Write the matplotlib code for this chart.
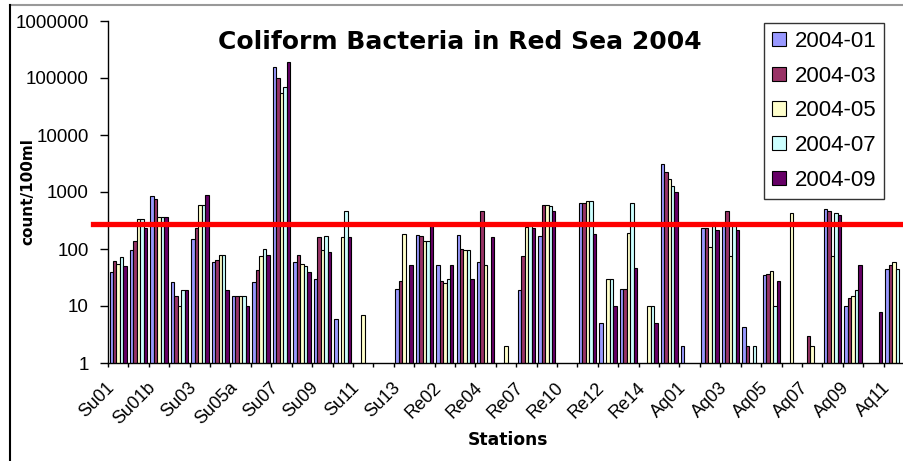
import numpy as np
import matplotlib
matplotlib.use('Agg')
import matplotlib.pyplot as plt
from matplotlib.patches import Patch
from matplotlib.lines import Line2D
from matplotlib.ticker import FixedLocator, FuncFormatter, NullLocator
from matplotlib.transforms import ScaledTranslation

plt.rcParams['font.family'] = ['Liberation Sans', 'DejaVu Sans']

nan = np.nan

stations = ['Su01', 'Su01a', 'Su01b', 'Su02', 'Su03', 'Su05', 'Su05a', 'Su06', 'Su07', 'Su08',
            'Su09', 'Su10', 'Su11', 'Su12', 'Su13', 'Re01', 'Re02', 'Re03', 'Re04', 'Re06',
            'Re07', 'Re08', 'Re10', 'Re11', 'Re12', 'Re13', 'Re14', 'Re15', 'Aq01', 'Aq02',
            'Aq03', 'Aq04', 'Aq05', 'Aq06', 'Aq07', 'Aq08', 'Aq09', 'Aq10', 'Aq11']

months = ['2004-01', '2004-03', '2004-05', '2004-07', '2004-09']

jan = [40, 95, 850, 26, 150, 60, 15, 26, 155000, 58,
       30, 6, nan, nan, 20, 175, 52, 175, 60, nan,
       19, 170, nan, 640, 5, 20, nan, 3100, 2, 230,
       290, 4.2, 35, nan, nan, 500, 10, nan, 44]
mar = [62, 140, 750, 15, 230, 65, 15, 42, 100000, 80,
       165, nan, nan, nan, 27, 170, 27, 100, 470, nan,
       75, 590, nan, 650, nan, 20, nan, 2200, nan, 230,
       460, 2, 37, nan, 3, 460, 14, nan, 52]
may = [55, 340, 360, 10, 600, 77, 15, 75, 55000, 55,
       95, 160, 7, nan, 180, 140, 25, 95, 52, 2,
       240, 590, nan, 700, 30, 190, 10, 1700, nan, 110,
       75, nan, 41, 420, 2, 75, 15, nan, 58]
jul = [72, 340, 360, 19, 590, 77, 15, 100, 70000, 50,
       170, 460, nan, nan, nan, 140, 30, 95, nan, nan,
       260, 560, nan, 700, 30, 630, 10, 1300, nan, 300,
       290, 2, 10, nan, nan, 430, 19, nan, 45]
sep = [50, 230, 360, 19, 880, 19, 10, 80, 190000, 40,
       88, 160, nan, nan, 52, 250, 52, 30, 160, nan,
       230, 470, nan, 180, 10, 46, 5, 1000, nan, 215,
       215, nan, 27, nan, nan, 400, 52, 8, nan]

threshold = 275

series = [jan, mar, may, jul, sep]
colors = ['#9999FF', '#993366', '#FFFFCC', '#CCFFFF', '#660066']

fig = plt.figure(figsize=(9.04, 4.61), dpi=100)
W, H = 904, 461
ax = fig.add_axes([108 / W, 1 - 363 / H, (W - 108) / W, 342 / H])

x = np.arange(len(stations))
bw = 0.17
for i, vals in enumerate(series):
    ax.bar(x + (i - 2) * bw, vals, width=bw, color=colors[i],
           edgecolor='black', linewidth=0.8, zorder=2)

ax.set_yscale('log')
ax.set_ylim(1, 1e6)
ax.set_xlim(-0.5, -0.5 + (W - 108) / 20.7)
ax.yaxis.set_major_locator(FixedLocator([1, 10, 100, 1000, 1e4, 1e5, 1e6]))
ax.yaxis.set_minor_locator(NullLocator())
ax.yaxis.set_major_formatter(FuncFormatter(lambda v, p: f'{int(v)}'))
ax.tick_params(axis='y', direction='out', length=6, width=1, pad=8, labelsize=13.5)

# tick marks between categories, labels on every second station
ax.set_xticks(np.arange(len(stations) + 1) - 0.5)
ax.set_xticklabels([])
ax.tick_params(axis='x', which='major', direction='out', length=3, width=1)
ax.set_xticks(x[::2], minor=True)
ax.set_xticklabels(stations[::2], minor=True, rotation=45, ha='right',
                   va='center', rotation_mode='anchor', fontsize=13)
ax.tick_params(axis='x', which='minor', length=0, pad=16)
off = ScaledTranslation(-6 / 100, 0, fig.dpi_scale_trans)
for lab in ax.get_xticklabels(minor=True):
    lab.set_transform(lab.get_transform() + off)

ax.spines['top'].set_visible(False)
ax.spines['right'].set_visible(False)
ax.spines['left'].set_linewidth(1)
ax.spines['bottom'].set_linewidth(1)

ax.axhline(threshold, xmin=-15 / (W - 108), xmax=1, color='#FF0000',
           linewidth=3.8, clip_on=False, zorder=5)

fig.text(460 / W, 1 - 42 / H, 'Coliform Bacteria in Red Sea 2004', ha='center',
         va='center', fontsize=18, fontweight='bold', family='DejaVu Sans')
fig.text(508 / W, 1 - 440 / H, 'Stations', ha='center', va='center',
         fontsize=12.3, fontweight='bold', family='DejaVu Sans')
fig.text(27.5 / W, 1 - 192 / H, 'count/100ml', ha='center', va='center',
         rotation=90, fontsize=11, fontweight='bold', family='DejaVu Sans')

handles = [Patch(facecolor=c, edgecolor='black', linewidth=0.8) for c in colors]
leg = ax.legend(handles, months, loc='upper right',
                bbox_to_anchor=(884 / W, 1 - 23 / H), bbox_transform=fig.transFigure,
                fontsize=16, frameon=True, fancybox=False, borderaxespad=0,
                handlelength=0.6, handleheight=0.6, handletextpad=0.4,
                labelspacing=0.62, borderpad=0.35)
leg.get_frame().set_edgecolor('black')
leg.get_frame().set_linewidth(1)

# outer chart border
fig.add_artist(Line2D([10 / W, 1], [1 - 5 / H, 1 - 5 / H], color='#999999', lw=1.5))
fig.add_artist(Line2D([10 / W, 10 / W], [0, 1 - 5 / H], color='black', lw=1.5))

fig.savefig('out.png', dpi=100)
